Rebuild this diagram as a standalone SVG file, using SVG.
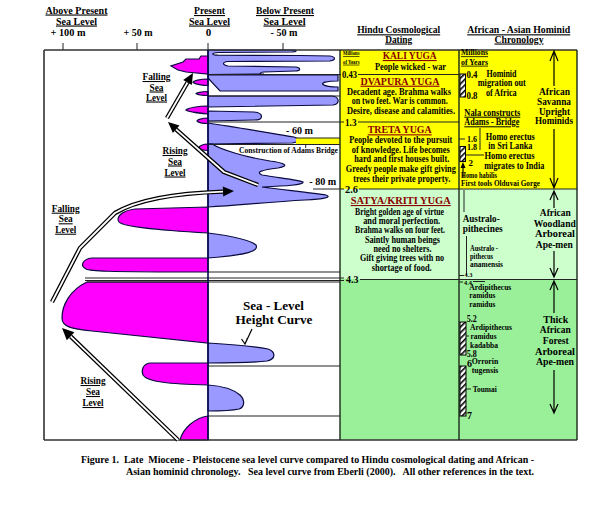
<svg xmlns="http://www.w3.org/2000/svg" width="601" height="510" viewBox="0 0 601 510">
<defs>
<style>
text{font-family:"Liberation Serif","Times New Roman",serif;font-weight:bold;fill:#000}
.h{font-size:11px}
.b{font-size:10.5px}
.y{font-size:11px;fill:#8b0000;text-decoration:underline}
.u{text-decoration:underline}
.s{font-size:8px}
.xs{font-size:6.5px}
.m{font-size:11px}
.n{font-size:10px}
.k{font-size:9px}
.big{font-size:13px}
.c{font-size:10.5px}
.mid{text-anchor:middle}
.ln{stroke:#222;stroke-width:1;fill:none}
.cv{stroke:#0a0a40;stroke-width:1.2}
.bl{fill:#9999ff}
.mg{fill:#ff00ff}
.sh1{fill:none;stroke:#000;stroke-width:4.4;stroke-linejoin:round}
.sh2{fill:none;stroke:#fff;stroke-width:1.8;stroke-linejoin:round}
.hd{fill:#000}
.v{fill:none;stroke:#000;stroke-width:1.2}
.hat{fill:url(#hatch);stroke:#000;stroke-width:1}
</style>
<pattern id="hatch" width="4" height="4" patternUnits="userSpaceOnUse" patternTransform="rotate(45)"><rect width="4" height="4" fill="#fff"/><rect width="1.6" height="4" fill="#000"/></pattern>
</defs>
<rect width="601" height="510" fill="#fff"/>

<g id="header">
<text class="h mid u" x="76.5" y="13.5" textLength="62" lengthAdjust="spacingAndGlyphs">Above Present</text>
<text class="h mid u" x="76.5" y="24.5" textLength="41" lengthAdjust="spacingAndGlyphs">Sea Level</text>
<text class="h mid" x="68" y="36" textLength="35" lengthAdjust="spacingAndGlyphs">+ 100 m</text>
<text class="h mid" x="138" y="36" textLength="29" lengthAdjust="spacingAndGlyphs">+ 50 m</text>
<text class="h mid u" x="209.5" y="14" textLength="31" lengthAdjust="spacingAndGlyphs">Present</text>
<text class="h mid u" x="209.5" y="24.5" textLength="41" lengthAdjust="spacingAndGlyphs">Sea Level</text>
<text class="h mid" x="208.5" y="36">0</text>
<text class="h mid u" x="285" y="14" textLength="58" lengthAdjust="spacingAndGlyphs">Below Present</text>
<text class="h mid u" x="284.5" y="24.5" textLength="42" lengthAdjust="spacingAndGlyphs">Sea Level</text>
<text class="h mid" x="284" y="36" textLength="27" lengthAdjust="spacingAndGlyphs">- 50 m</text>
<text class="h mid u" x="398.7" y="33.3" textLength="83" lengthAdjust="spacingAndGlyphs">Hindu Cosmological</text>
<text class="h mid u" x="398.7" y="42.5" textLength="27" lengthAdjust="spacingAndGlyphs">Dating</text>
<text class="h mid u" x="518.7" y="33.3" textLength="103" lengthAdjust="spacingAndGlyphs">African - Asian Hominid</text>
<text class="h mid u" x="519" y="42.5" textLength="49" lengthAdjust="spacingAndGlyphs">Chronology</text>
<path class="ln" d="M63,43V50M137,43V50M208,43V50M283,43V50" stroke-width="1.2"/>
</g>

<g id="columns">
<rect x="340" y="50" width="237" height="139" fill="#ffff00"/>
<rect x="340" y="189" width="237" height="90" fill="#ccffcc"/>
<rect x="340" y="279" width="237" height="161" fill="#99f099"/>
</g>

<g id="sea-level-curve">
<path class="bl cv" d="M208,50 L294,50 C297,50.5 297,51.8 292,52 L218,52.5 C211,53 211,55 218,55.2 L300,55.5 L330,56 C336,57 336,60 330,61 L228,61.5 C222,62 222,65 228,66 L296,67 C301,68 301,71 295,71 L264,72 C259,72.5 259,74 264,74 L208,74.5 Z"/>
<path class="bl cv" d="M208,75 L338,75 L338,81 C326,81 321,83 323,84.5 C325,86 330,87 338,87 L338,91 L220,91 L208,78 Z"/>
<path class="bl cv" d="M208,96 L332,96 C340,97 340,104 333,105 L208,107 Z"/>
<path class="bl cv" d="M208,111 L254,112 C264,113 264,120 254,120 L208,121 Z"/>
<path class="bl cv" d="M208,123 C235,127 270,133 294,137 C300,139 300,142 292,143 L208,144 Z"/>
<path class="bl cv" d="M208,144 L212,144 C222,150 245,157 270,161 C285,163 290,166 278,168 C262,170 255,172 262,175 C280,178 300,180 303,182 C304,185 285,186 262,187 C285,190 315,193 326,195 C332,197 325,199 305,200 C270,202 240,205 208,207 Z"/>
<path class="bl cv" d="M208,233 C232,236 250,240 256,245 C259,251 248,255 208,258 Z"/>
<path class="bl cv" d="M208,343 C240,345 258,347 268,349 C276,352 276,359 267,361 C250,363 230,363 208,363 Z"/>
<path class="bl cv" d="M208,385 C224,386 234,390 240,395 C245,400 245,407 239,409 C230,411 220,411 208,411 Z"/>
<path class="mg cv" d="M208,56 L201,56 L199,59 L186,59 L183,62 L171,66 L178,70 L186,72 L208,74 Z"/>
<path class="mg cv" d="M208,79 C200,79 193,81 193,82.5 C195,84 203,85.5 208,85.5 Z"/>
<path class="mg cv" d="M208,91.5 C201,91.5 196,93 196,93.5 C198,95 204,95.5 208,95.5 Z"/>
<path class="mg cv" d="M208,106 C198,106 188,108 186,110 C188,112 198,113 208,114 Z"/>
<path class="mg cv" d="M208,118 C202,118 197,120 197,121 C199,123 204,123.5 208,123.5 Z"/>
<path class="mg cv" d="M208,144 C203,144 199,146 199,147.5 C201,150 205,150.5 208,150.5 Z"/>
<path class="mg cv" d="M208,207 L135,209 C120,211 116,218 119,222 C123,227 170,231 208,233 Z"/>
<path class="mg cv" d="M208,258 L92,258 C82,259 80,266 86,269 C90,271 100,272 208,272 Z"/>
<path class="mg cv" d="M208,282 L87,282 C70,290 62,305 62,318 C62,327 72,329 92,331 C140,336 180,340 208,343 Z"/>
<path class="mg cv" d="M208,363 L150,363 C143,364 141,370 143,375 C147,382 170,384 208,385 Z"/>
<path class="mg cv" d="M208,416 C195,418 183,428 180,440 L208,440 Z"/>
<rect x="296" y="138" width="44" height="6.5" fill="#ffff00"/>
</g>

<g id="time-lines">
<path class="ln" d="M208,74.5H341M358,74.5H459M208,96H340M208,122H344M358,122H459M296,138H340M208,144.5H340M305.7,144.5V148M313,189H344M359,189H577M208,272H340M85,278H344M85,280.5H344M360,279.5H577M87,282H340M208,366H340M208,416H340"/>
</g>

<g id="frame">
<path d="M44,50H577M44,50V440M44,440H577" fill="none" stroke="#333" stroke-width="1.6"/>
<path d="M340,50V440M459,50V440M577,50V440" fill="none" stroke="#1a2a1a" stroke-width="1.4"/>
<path d="M208,50V440" stroke="#0a0a50" stroke-width="1.6"/>
</g>

<g id="connectors">
<path class="sh1" d="M167,118 L187.5,82.5"/><path class="sh2" d="M167,118 L187.5,82.5"/>
<path class="hd" d="M193,73 L191.8,85 L183.2,80 Z"/>
<path class="sh1" d="M258,185 L224,172 L176,129.3"/><path class="sh2" d="M258,185 L224,172 L176,129.3"/>
<path class="hd" d="M168,122 L179.5,125.6 L172.9,133 Z"/>
<path class="sh1" d="M52,302 L80,248 L115,213 C140,198 180,193 223,191.6"/><path class="sh2" d="M52,302 L80,248 L115,213 C140,198 180,193 223,191.6"/>
<path class="hd" d="M234,191 L223.2,196.6 L222.8,186.6 Z"/>
<path class="sh1" d="M178,440 L70.6,336.3"/><path class="sh2" d="M178,440 L70.6,336.3"/>
<path class="hd" d="M62,328 L74.4,332.3 L66.8,340.3 Z"/>
<path class="v" d="M252,329 L245,344 M241.5,339 L245,344 L247.5,338"/>
</g>

<g id="curve-labels">
<text class="b mid u" x="156.5" y="80" textLength="28" lengthAdjust="spacingAndGlyphs">Falling</text>
<text class="b mid u" x="156.5" y="90.5" textLength="14" lengthAdjust="spacingAndGlyphs">Sea</text>
<text class="b mid u" x="156.5" y="100.5" textLength="21" lengthAdjust="spacingAndGlyphs">Level</text>
<text class="b mid u" x="175" y="154" textLength="25" lengthAdjust="spacingAndGlyphs">Rising</text>
<text class="b mid u" x="175" y="164.5" textLength="14" lengthAdjust="spacingAndGlyphs">Sea</text>
<text class="b mid u" x="175" y="175.5" textLength="21" lengthAdjust="spacingAndGlyphs">Level</text>
<text class="b mid u" x="65.7" y="211.7" textLength="28" lengthAdjust="spacingAndGlyphs">Falling</text>
<text class="b mid u" x="65.7" y="222.3" textLength="14" lengthAdjust="spacingAndGlyphs">Sea</text>
<text class="b mid u" x="65.7" y="232.7" textLength="21" lengthAdjust="spacingAndGlyphs">Level</text>
<text class="b mid u" x="93" y="384" textLength="25" lengthAdjust="spacingAndGlyphs">Rising</text>
<text class="b mid u" x="93" y="395" textLength="14" lengthAdjust="spacingAndGlyphs">Sea</text>
<text class="b mid u" x="93" y="406" textLength="21" lengthAdjust="spacingAndGlyphs">Level</text>
<text class="m" x="286" y="133.5" textLength="27" lengthAdjust="spacingAndGlyphs">- 60 m</text>
<text class="m" x="309.3" y="185" textLength="27" lengthAdjust="spacingAndGlyphs">- 80 m</text>
<text class="s" x="239" y="153.3" textLength="99" lengthAdjust="spacingAndGlyphs">Construction of Adams Bridge</text>
<text class="big mid" x="273.5" y="310" textLength="61" lengthAdjust="spacingAndGlyphs">Sea - Level</text>
<text class="big mid" x="274" y="324" textLength="77" lengthAdjust="spacingAndGlyphs">Height Curve</text>
</g>

<g id="hindu-column">
<text class="xs u" x="343" y="55.3" textLength="16.5" lengthAdjust="spacingAndGlyphs">Millions</text>
<text class="xs u" x="343" y="63.7" textLength="16.5" lengthAdjust="spacingAndGlyphs">of Years</text>
<text class="y mid" x="409.7" y="59" textLength="54" lengthAdjust="spacingAndGlyphs">KALI YUGA</text>
<text class="b mid" x="410.5" y="69.7" textLength="71" lengthAdjust="spacingAndGlyphs">People wicked - war</text>
<text class="m" x="342" y="78" textLength="15" lengthAdjust="spacingAndGlyphs">0.43</text>
<text class="y mid" x="400" y="84.7" textLength="79" lengthAdjust="spacingAndGlyphs">DVAPURA YUGA</text>
<text class="b mid" x="399" y="94.7" textLength="104" lengthAdjust="spacingAndGlyphs">Decadent age. Brahma walks</text>
<text class="b mid" x="399.7" y="104" textLength="96" lengthAdjust="spacingAndGlyphs">on two feet. War is common.</text>
<text class="b mid" x="401" y="114" textLength="108" lengthAdjust="spacingAndGlyphs">Desire, disease and calamities.</text>
<text class="m" x="345" y="125.5" textLength="11.5" lengthAdjust="spacingAndGlyphs">1.3</text>
<text class="y mid" x="399.7" y="133.3" textLength="64" lengthAdjust="spacingAndGlyphs">TRETA YUGA</text>
<text class="b mid" x="400.7" y="143.3" textLength="103" lengthAdjust="spacingAndGlyphs">People devoted to the pursuit</text>
<text class="b mid" x="400.8" y="152.7" textLength="98" lengthAdjust="spacingAndGlyphs">of knowledge. Life becomes</text>
<text class="b mid" x="401.7" y="162.3" textLength="95" lengthAdjust="spacingAndGlyphs">hard and first houses built.</text>
<text class="b mid" x="400.8" y="172" textLength="110" lengthAdjust="spacingAndGlyphs">Greedy people make gift giving</text>
<text class="b mid" x="401.7" y="181.7" textLength="97" lengthAdjust="spacingAndGlyphs">trees their private property.</text>
<text class="m" x="345" y="192.5" textLength="13" lengthAdjust="spacingAndGlyphs">2.6</text>
<text class="y mid" x="400.7" y="204" textLength="100" lengthAdjust="spacingAndGlyphs">SATYA/KRITI YUGA</text>
<text class="b mid" x="399.5" y="215" textLength="89" lengthAdjust="spacingAndGlyphs">Bright golden age of virtue</text>
<text class="b mid" x="401.7" y="224.3" textLength="77" lengthAdjust="spacingAndGlyphs">and moral perfection.</text>
<text class="b mid" x="400" y="233.3" textLength="90" lengthAdjust="spacingAndGlyphs">Brahma walks on four feet.</text>
<text class="b mid" x="402.5" y="242.7" textLength="75" lengthAdjust="spacingAndGlyphs">Saintly human beings</text>
<text class="b mid" x="402.5" y="251.7" textLength="58" lengthAdjust="spacingAndGlyphs">need no shelters.</text>
<text class="b mid" x="402" y="261" textLength="84" lengthAdjust="spacingAndGlyphs">Gift giving trees with no</text>
<text class="b mid" x="401.7" y="270.7" textLength="60" lengthAdjust="spacingAndGlyphs">shortage of food.</text>
<text class="m" x="346" y="283" textLength="12.5" lengthAdjust="spacingAndGlyphs">4.3</text>
</g>

<g id="hominid-column">
<text class="s u" x="461" y="55.3" textLength="27" lengthAdjust="spacingAndGlyphs">Millions</text>
<text class="s u" x="461" y="64.7" textLength="27" lengthAdjust="spacingAndGlyphs">of Years</text>
<rect class="hat" x="460" y="74" width="5.5" height="23"/>
<text class="n" x="466.5" y="77.5" textLength="11" lengthAdjust="spacingAndGlyphs">0.4</text>
<text class="n" x="466.5" y="98.5" textLength="11" lengthAdjust="spacingAndGlyphs">0.8</text>
<text class="n mid" x="501.5" y="76.5" textLength="30" lengthAdjust="spacingAndGlyphs">Hominid</text>
<text class="n mid" x="501.8" y="86" textLength="48" lengthAdjust="spacingAndGlyphs">migration out</text>
<text class="n mid" x="501.3" y="95.7" textLength="30.7" lengthAdjust="spacingAndGlyphs">of Africa</text>
<text class="n u" x="464.3" y="115.7" textLength="56" lengthAdjust="spacingAndGlyphs">Nala constructs</text>
<text class="n u" x="464.3" y="125.3" textLength="55" lengthAdjust="spacingAndGlyphs">Adams - Bridge</text>
<path class="ln" d="M480,128V150M459,139H465M465,155H484"/>
<text class="k" x="467" y="142" textLength="10" lengthAdjust="spacingAndGlyphs">1.6</text>
<text class="k" x="467" y="149.5" textLength="10" lengthAdjust="spacingAndGlyphs">1.8</text>
<text class="n mid" x="510.3" y="139.7" textLength="49" lengthAdjust="spacingAndGlyphs">Homo erectus</text>
<text class="n mid" x="510.3" y="149" textLength="44" lengthAdjust="spacingAndGlyphs">in  Sri Lanka</text>
<rect class="hat" x="460" y="146.5" width="5.5" height="15"/>
<text class="k" x="468.5" y="165.5">2</text>
<text class="n mid" x="509.5" y="159" textLength="50" lengthAdjust="spacingAndGlyphs">Homo erectus</text>
<text class="n mid" x="514.3" y="168.7" textLength="60" lengthAdjust="spacingAndGlyphs">migrates to India</text>
<path d="M463,178V166" stroke="#000" stroke-width="1.2"/>
<path class="hd" d="M463,162 L460.5,168 L465.5,168 Z"/>
<text class="xs" x="461" y="178" textLength="36" lengthAdjust="spacingAndGlyphs" style="font-size:7.5px">Homo habilis</text>
<text class="xs" x="461" y="186.3" textLength="79" lengthAdjust="spacingAndGlyphs" style="font-size:7.5px">First tools Olduvai Gorge</text>
<text class="m mid" x="554.5" y="94.5" textLength="31" lengthAdjust="spacingAndGlyphs">African</text>
<text class="m mid" x="554" y="104.7" textLength="34" lengthAdjust="spacingAndGlyphs">Savanna</text>
<text class="m mid" x="554.5" y="114.5" textLength="31" lengthAdjust="spacingAndGlyphs">Upright</text>
<text class="m mid" x="554" y="124" textLength="38" lengthAdjust="spacingAndGlyphs">Hominids</text>
<path class="v" d="M554,51V86M554,129V188M550,61L554,51L558,61M550,178L554,188L558,178"/>
<path class="ln" d="M464,190V212M466.5,236V275M459,275.5H464M459,282H463M473,281.5H485"/>
<text class="m" x="462.7" y="221.7" textLength="37" lengthAdjust="spacingAndGlyphs">Australo-</text>
<text class="m" x="462.7" y="231.7" textLength="40" lengthAdjust="spacingAndGlyphs">pithecines</text>
<text class="s" x="470" y="250.7" textLength="28" lengthAdjust="spacingAndGlyphs">Australo -</text>
<text class="s" x="470" y="259" textLength="23" lengthAdjust="spacingAndGlyphs">pithecus</text>
<text class="s" x="470" y="267.3" textLength="33" lengthAdjust="spacingAndGlyphs">anamensis</text>
<text class="xs" x="464.5" y="277" textLength="8" lengthAdjust="spacingAndGlyphs">4.3</text>
<text class="xs" x="464" y="285" textLength="8" lengthAdjust="spacingAndGlyphs">4.4</text>
<text class="s" x="469.3" y="290" textLength="42" lengthAdjust="spacingAndGlyphs">Ardipithecus</text>
<text class="s" x="469.3" y="298.3" textLength="26" lengthAdjust="spacingAndGlyphs">ramidus</text>
<text class="s" x="469.3" y="307.3" textLength="26" lengthAdjust="spacingAndGlyphs">ramidus</text>
<rect class="hat" x="460" y="322" width="6" height="33"/>
<text class="n" x="466.7" y="321.7" textLength="10" lengthAdjust="spacingAndGlyphs">5.2</text>
<text class="s" x="470" y="330" textLength="42" lengthAdjust="spacingAndGlyphs">Ardipithecus</text>
<path class="ln" d="M466,336H469M466,389H471"/>
<text class="s" x="470.5" y="339" textLength="26" lengthAdjust="spacingAndGlyphs">ramidus</text>
<text class="s" x="470" y="347.7" textLength="28" lengthAdjust="spacingAndGlyphs">kadabba</text>
<text class="n" x="466.7" y="356.5" textLength="10" lengthAdjust="spacingAndGlyphs">5.8</text>
<rect class="hat" x="460" y="366" width="6" height="50"/>
<text class="n" x="467" y="367">6</text>
<text class="s" x="471.7" y="364.3" textLength="26.6" lengthAdjust="spacingAndGlyphs">Orrorin</text>
<text class="s" x="471.7" y="373.3" textLength="26.6" lengthAdjust="spacingAndGlyphs">tugensis</text>
<text class="s" x="472.7" y="392" textLength="24" lengthAdjust="spacingAndGlyphs">Toumai</text>
<text class="n" x="467" y="418.5">7</text>
<text class="m mid" x="555.3" y="216" textLength="31" lengthAdjust="spacingAndGlyphs">African</text>
<text class="m mid" x="554.8" y="226.7" textLength="42" lengthAdjust="spacingAndGlyphs">Woodland</text>
<text class="m mid" x="555" y="237.3" textLength="40" lengthAdjust="spacingAndGlyphs">Arboreal</text>
<text class="m mid" x="554.3" y="247.7" textLength="37" lengthAdjust="spacingAndGlyphs">Ape-men</text>
<path class="v" d="M554,191V208M554,251V277M550,200L554,191L558,200M550,268L554,277L558,268"/>
<text class="m mid" x="555.8" y="322.7" textLength="25" lengthAdjust="spacingAndGlyphs">Thick</text>
<text class="m mid" x="555.3" y="333.3" textLength="31" lengthAdjust="spacingAndGlyphs">African</text>
<text class="m mid" x="555.8" y="344" textLength="26" lengthAdjust="spacingAndGlyphs">Forest</text>
<text class="m mid" x="555" y="354.7" textLength="40" lengthAdjust="spacingAndGlyphs">Arboreal</text>
<text class="m mid" x="555" y="365" textLength="38" lengthAdjust="spacingAndGlyphs">Ape-men</text>
<path class="v" d="M554,281V313M554,370V413M550,290L554,281L558,290M550,404L554,413L558,404"/>
</g>

<g id="caption">
<text class="c" x="81" y="462.5" textLength="453" lengthAdjust="spacingAndGlyphs" xml:space="preserve">Figure 1.  Late  Miocene - Pleistocene sea level curve compared to Hindu cosmological dating and African -</text>
<text class="c" x="126" y="474.5" textLength="408" lengthAdjust="spacingAndGlyphs" xml:space="preserve">Asian hominid chronology.   Sea level curve from Eberli (2000).   All other references in the text.</text>
</g>
</svg>
